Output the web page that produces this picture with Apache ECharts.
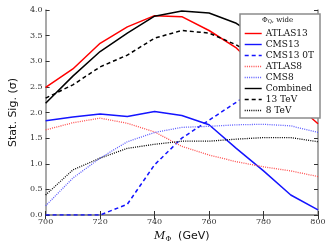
<!DOCTYPE html>
<html><head><meta charset="utf-8">
<script src="https://cdn.jsdelivr.net/npm/echarts@6/dist/echarts.min.js"></script>
<style>html,body{margin:0;padding:0;background:#fff}#c{width:332px;height:249px}</style>
</head><body><div id="c"></div>
<script>
var masses = [700,710,720,730,740,750,760,770,780,790,800];
var atlas13 = [2.49,2.85,3.35,3.67,3.89,3.87,3.60,3.26,2.75,2.25,1.78];
var cms13 = [1.84,1.91,1.97,1.92,2.02,1.94,1.76,1.30,0.86,0.39,0.10];
var cms13_0T = [0,0,0,0.21,0.98,1.50,1.85,2.20,2.55,2.85,3.05];
var atlas8 = [1.66,1.80,1.89,1.79,1.62,1.34,1.17,1.04,0.94,0.86,0.75];
var cms8 = [0.18,0.72,1.11,1.43,1.61,1.71,1.73,1.76,1.77,1.74,1.61];
var combined = [2.18,2.71,3.19,3.55,3.88,3.98,3.94,3.74,3.40,2.95,2.50];
var tev13 = [2.28,2.54,2.89,3.12,3.45,3.60,3.55,3.32,3.00,2.60,2.20];
var tev8 = [0.39,0.88,1.11,1.30,1.38,1.44,1.44,1.48,1.51,1.51,1.43];
var xTicks = [700,720,740,760,780,800];
var yTicks = [0,0.5,1,1.5,2,2.5,3,3.5,4];

function pairs(v){ return masses.map(function(m,i){return [m,v[i]];}); }
function s(name, vals, color, type, width){
  return {name:name, type:'line', data:pairs(vals), symbol:'none', silent:true,
    lineStyle:{color:color, type:type, width:width}, itemStyle:{color:color}, z: 3};
}
var frame = '#8c8c8c';
var serif = 'DejaVu Serif';
var chart = echarts.init(document.getElementById('c'), null, {renderer:'canvas'});
chart.setOption({
  animation:false,
  grid:{left:35, right:14, top:10, bottom:34, show:false},
  xAxis:[{type:'value', min:700, max:800, interval:20, position:'bottom',
    axisLine:{lineStyle:{color:frame, width:1.5}},
    axisTick:{inside:true, length:4, lineStyle:{color:'#333'}},
    splitLine:{show:false},
    axisLabel:{fontFamily:serif, fontSize:8, color:'#333', margin:3},
    name:'{i|M}{sub|Φ}{n|  (GeV)}', nameLocation:'middle', nameGap:6,
    nameTextStyle:{rich:{
      i:{fontFamily:'DejaVu Serif', fontStyle:'italic', fontSize:11, color:'#111'},
      sub:{fontFamily:'DejaVu Serif', fontSize:7, color:'#111', verticalAlign:'bottom', padding:[6,0,0,0]},
      n:{fontFamily:'DejaVu Sans', fontSize:11, color:'#111'}}}},
    {type:'value', min:700, max:800, interval:20, position:'top',
    axisLine:{lineStyle:{color:frame, width:1.5}},
    axisTick:{inside:true, length:4, lineStyle:{color:'#333'}},
    axisLabel:{show:false}, splitLine:{show:false}}],
  yAxis:[{type:'value', min:0, max:4, interval:0.5, position:'left',
    axisLine:{show:true, lineStyle:{color:frame, width:1.5}},
    axisTick:{show:true, inside:true, length:4, lineStyle:{color:'#333'}},
    splitLine:{show:false},
    axisLabel:{fontFamily:serif, fontSize:8, color:'#333', margin:3,
      formatter:function(v){return v.toFixed(1);}},
    name:'Stat. Sig. (σ)', nameLocation:'middle', nameGap:17, nameRotate:90,
    nameTextStyle:{fontFamily:'DejaVu Sans', fontSize:11, color:'#111'}},
    {type:'value', min:0, max:4, interval:0.5, position:'right',
    axisLine:{show:true, lineStyle:{color:frame, width:1.5}},
    axisTick:{show:true, inside:true, length:4, lineStyle:{color:'#333'}},
    axisLabel:{show:false}, splitLine:{show:false}}],
  legend:{orient:'vertical', left:240, top:14, width:74,
    padding:[15,6,3,4], itemGap:2, itemWidth:17, itemHeight:10,
    itemStyle:{opacity:0}, lineStyle:{width:1.4},
    backgroundColor:'#fff', borderColor:frame, borderWidth:1.5,
    textStyle:{fontFamily:serif, fontSize:9, color:'#111', padding:[0,0,0,-1]},
    data:['ATLAS13','CMS13','CMS13 0T','ATLAS8','CMS8','Combined','13 TeV','8 TeV']},
  graphic:[{type:'text', left:262, top:17, z:100,
    style:{rich:{a:{fontFamily:serif, fontSize:7, fill:'#111'},
      b:{fontFamily:serif, fontSize:5, fill:'#111', padding:[3,0,0,0]}},
      text:'{a|Φ}{b|Q}{a|, wide}'}}],
  series:[
    s('ATLAS13', atlas13, '#ff0000', 'solid', 1.5),
    s('CMS13', cms13, '#1414ff', 'solid', 1.5),
    s('CMS13 0T', cms13_0T, '#1414ff', [4,3], 1.5),
    s('ATLAS8', atlas8, '#ff4d4d', [1,1.2], 1.3),
    s('CMS8', cms8, '#5c5cff', [1,1.2], 1.3),
    s('Combined', combined, '#000000', 'solid', 1.5),
    s('13 TeV', tev13, '#000000', [4,3], 1.5),
    s('8 TeV', tev8, '#000000', [1,1.2], 1.3)
  ]
});
</script></body></html>
